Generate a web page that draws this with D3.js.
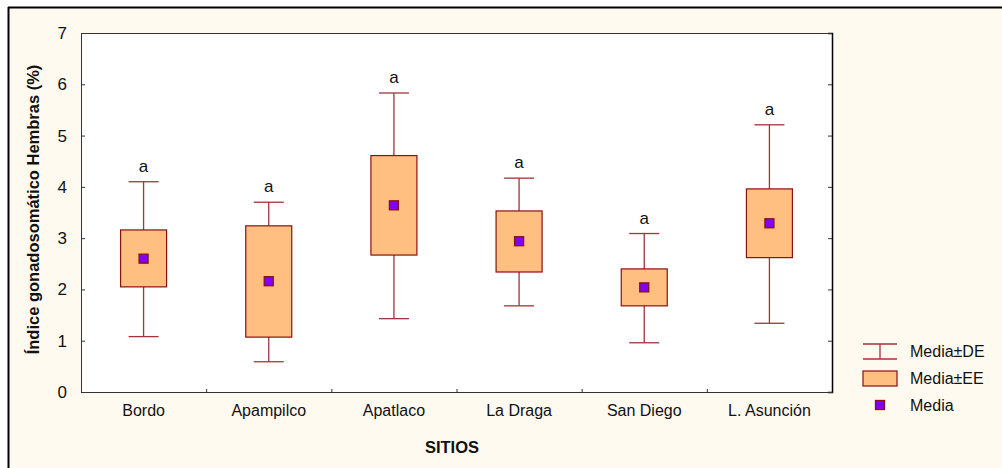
<!DOCTYPE html>
<html>
<head>
<meta charset="utf-8">
<script src="https://cdn.jsdelivr.net/npm/d3@7"></script>
<style>
  html, body { margin: 0; padding: 0; background: #ffffff; }
  svg { display: block; }
</style>
</head>
<body>
<svg id="chart" width="1002" height="468"></svg>
<script>
// Gonadosomatic index (females) per site: mean, ±SE box, ±SD whiskers
const sites      = ["Bordo", "Apampilco", "Apatlaco", "La Draga", "San Diego", "L. Asunción"];
const meanVals   = [2.60, 2.16, 3.64, 2.94, 2.04, 3.29];
const seLow      = [2.05, 1.07, 2.67, 2.34, 1.68, 2.62];
const seHigh     = [3.16, 3.24, 4.61, 3.53, 2.40, 3.96];
const sdLow      = [1.08, 0.59, 1.43, 1.68, 0.96, 1.34];
const sdHigh     = [4.10, 3.70, 5.83, 4.17, 3.09, 5.21];
const groupLetters = ["a", "a", "a", "a", "a", "a"];
const yTicks     = [0, 1, 2, 3, 4, 5, 6, 7];
const legendLabels = ["Media±DE", "Media±EE", "Media"];

const FONT = "'Liberation Sans', Arial, sans-serif";
const boxFill = "#ffbf80", boxStroke = "#8b1010", whiskerColor = "#a0343c";
const meanFill = "#8000ff", bg = "#fffaf0";

const svg = d3.select("#chart");

// page background and frame
svg.append("rect").attr("x", 9).attr("y", 8).attr("width", 993).attr("height", 460).attr("fill", bg);
svg.append("line").attr("x1", 8).attr("x2", 1002).attr("y1", 7.5).attr("y2", 7.5)
  .attr("stroke", "#000").attr("stroke-width", 2);
svg.append("line").attr("x1", 8.5).attr("x2", 8.5).attr("y1", 7).attr("y2", 468)
  .attr("stroke", "#000").attr("stroke-width", 2);

const plot = { left: 81, right: 832, top: 33, bottom: 392 };

const x = d3.scaleBand().domain(sites).range([plot.left, plot.right]);
const y = d3.scaleLinear().domain([0, 7]).range([plot.bottom, plot.top]);

// plot area
svg.append("rect").attr("x", plot.left).attr("y", plot.top)
  .attr("width", plot.right - plot.left).attr("height", plot.bottom - plot.top)
  .attr("fill", "#ffffff");

// left axis
const yAxis = svg.append("g").attr("transform", `translate(${plot.left},0)`)
  .call(d3.axisLeft(y).tickValues(yTicks).tickSize(-4).tickPadding(14).tickFormat(d3.format("d")));
yAxis.select(".domain").attr("stroke", "#333");
yAxis.selectAll(".tick line").attr("stroke", "#333");
yAxis.selectAll("text").attr("font-family", FONT).attr("font-size", 17).attr("fill", "#111");

// right axis (ticks only)
const yAxisR = svg.append("g").attr("transform", `translate(${plot.right},0)`)
  .call(d3.axisRight(y).tickValues(yTicks).tickSize(-4).tickFormat(""));
yAxisR.select(".domain").attr("stroke", "#000").attr("stroke-width", 1.5);
yAxisR.selectAll(".tick line").attr("stroke", "#333");

// top border
svg.append("line").attr("x1", plot.left).attr("x2", plot.right)
  .attr("y1", plot.top + 0.5).attr("y2", plot.top + 0.5).attr("stroke", "#333");

// bottom axis: category labels, ticks between categories
const xAxis = svg.append("g").attr("transform", `translate(0,${plot.bottom})`)
  .call(d3.axisBottom(x).tickSize(0).tickPadding(13));
xAxis.select(".domain").attr("stroke", "#333");
xAxis.selectAll("text").attr("font-family", FONT).attr("font-size", 16).attr("fill", "#111");
xAxis.selectAll(".sep").data(sites.slice(1)).enter().append("line")
  .attr("x1", d => x(d) + 0.5).attr("x2", d => x(d) + 0.5)
  .attr("y1", 0).attr("y2", -3).attr("stroke", "#333");

// axis titles
svg.append("text")
  .attr("transform", `translate(39,${(plot.top + plot.bottom) / 2 - 3}) rotate(-90)`)
  .attr("text-anchor", "middle").attr("font-family", FONT).attr("font-weight", "bold")
  .attr("font-size", 16.5).attr("fill", "#111")
  .text("Índice gonadosomático Hembras (%)");
svg.append("text").attr("x", 452).attr("y", 453)
  .attr("text-anchor", "middle").attr("font-family", FONT).attr("font-weight", "bold")
  .attr("font-size", 16.5).attr("fill", "#111").text("SITIOS");

// boxes
const boxW = 46, capW = 30, meanS = 9;
const data = sites.map((s, i) => ({
  site: s, mean: meanVals[i], seLo: seLow[i], seHi: seHigh[i],
  sdLo: sdLow[i], sdHi: sdHigh[i], letter: groupLetters[i]
}));
const cx = d => x(d.site) + x.bandwidth() / 2;

const g = svg.append("g");
const item = g.selectAll(".item").data(data).enter().append("g");

// whiskers
item.append("line").attr("x1", cx).attr("x2", cx)
  .attr("y1", d => y(d.sdHi)).attr("y2", d => y(d.seHi))
  .attr("stroke", whiskerColor).attr("stroke-width", 1.3);
item.append("line").attr("x1", cx).attr("x2", cx)
  .attr("y1", d => y(d.seLo)).attr("y2", d => y(d.sdLo))
  .attr("stroke", whiskerColor).attr("stroke-width", 1.3);
item.append("line").attr("x1", d => cx(d) - capW / 2).attr("x2", d => cx(d) + capW / 2)
  .attr("y1", d => y(d.sdHi)).attr("y2", d => y(d.sdHi))
  .attr("stroke", whiskerColor).attr("stroke-width", 1.3);
item.append("line").attr("x1", d => cx(d) - capW / 2).attr("x2", d => cx(d) + capW / 2)
  .attr("y1", d => y(d.sdLo)).attr("y2", d => y(d.sdLo))
  .attr("stroke", whiskerColor).attr("stroke-width", 1.3);

// SE box
item.append("rect").attr("x", d => cx(d) - boxW / 2).attr("y", d => y(d.seHi))
  .attr("width", boxW).attr("height", d => y(d.seLo) - y(d.seHi))
  .attr("fill", boxFill).attr("stroke", boxStroke).attr("stroke-width", 1.2);

// mean marker
item.append("rect").attr("x", d => cx(d) - meanS / 2).attr("y", d => y(d.mean) - meanS / 2)
  .attr("width", meanS).attr("height", meanS)
  .attr("fill", meanFill).attr("stroke", boxStroke).attr("stroke-width", 1.3);

// group letters
item.append("text").attr("x", cx).attr("y", d => y(d.sdHi) - 10)
  .attr("text-anchor", "middle").attr("font-family", FONT).attr("font-size", 17)
  .attr("fill", "#111").text(d => d.letter);

// legend
const lg = svg.append("g").attr("transform", "translate(863,0)");
lg.append("line").attr("x1", 17).attr("x2", 17).attr("y1", 344).attr("y2", 359)
  .attr("stroke", whiskerColor).attr("stroke-width", 1.3);
lg.append("line").attr("x1", 0).attr("x2", 34).attr("y1", 344).attr("y2", 344)
  .attr("stroke", whiskerColor).attr("stroke-width", 1.3);
lg.append("line").attr("x1", 0).attr("x2", 34).attr("y1", 359).attr("y2", 359)
  .attr("stroke", whiskerColor).attr("stroke-width", 1.3);
lg.append("rect").attr("x", 0).attr("y", 371).attr("width", 34).attr("height", 15)
  .attr("fill", boxFill).attr("stroke", boxStroke).attr("stroke-width", 1.2);
lg.append("rect").attr("x", 12.5).attr("y", 400.5).attr("width", meanS).attr("height", meanS)
  .attr("fill", meanFill).attr("stroke", boxStroke).attr("stroke-width", 1.3);
lg.selectAll(".lt").data(legendLabels).enter().append("text")
  .attr("x", 47).attr("y", (d, i) => 357 + i * 27)
  .attr("font-family", FONT).attr("font-size", 16).attr("fill", "#111").text(d => d);
</script>
</body>
</html>
